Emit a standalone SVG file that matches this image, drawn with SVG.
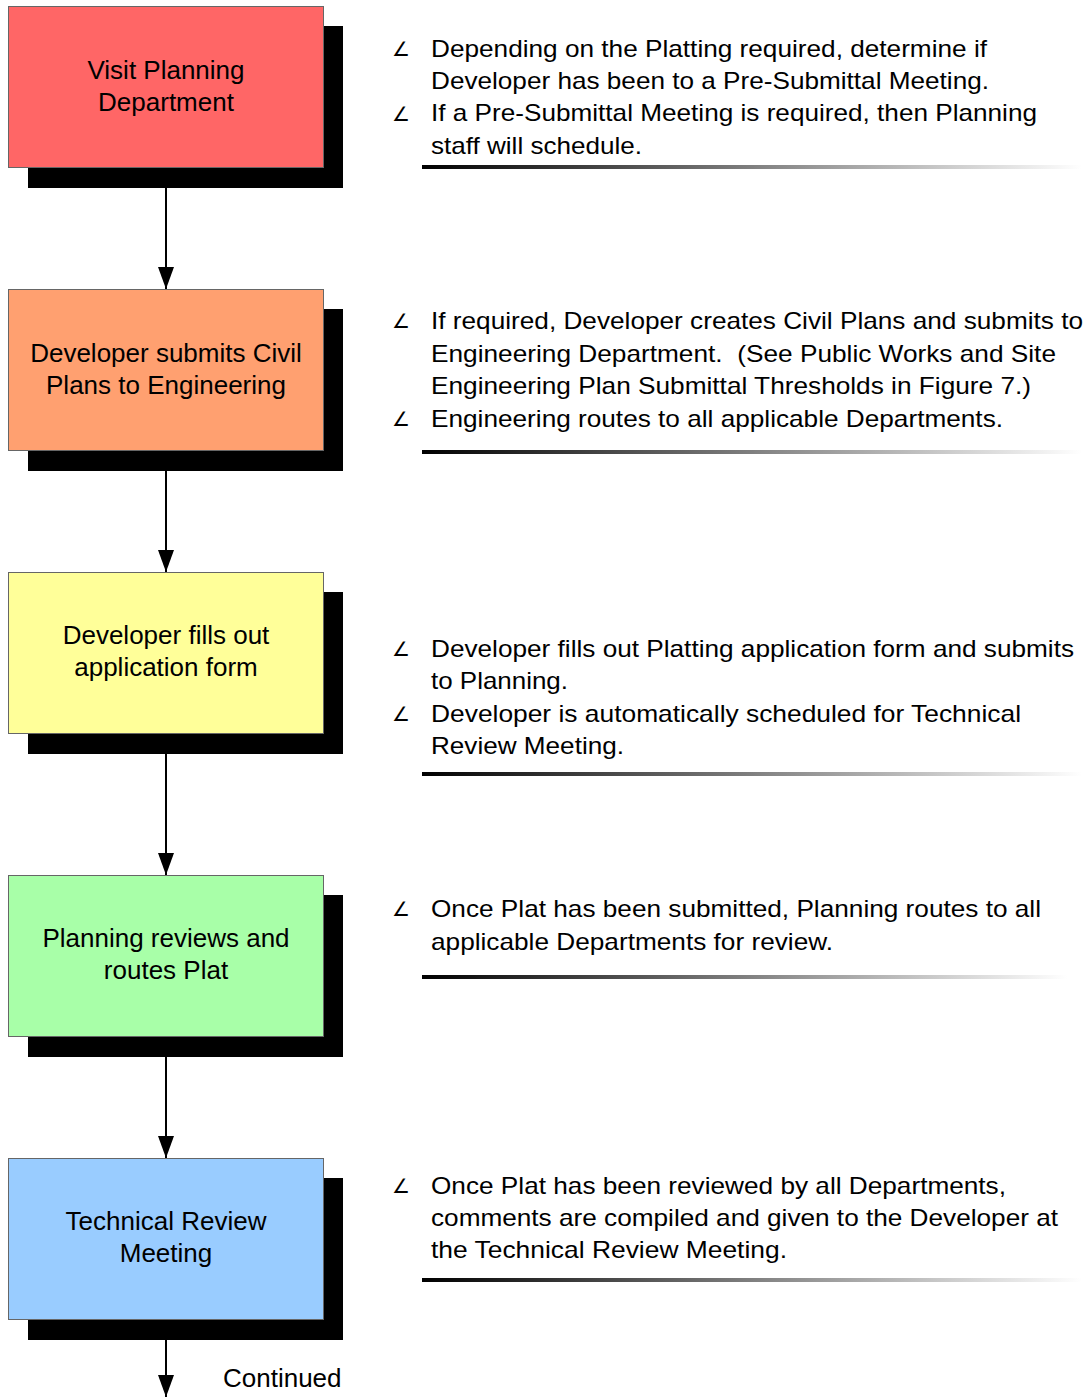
<svg xmlns="http://www.w3.org/2000/svg" width="1088" height="1397" viewBox="0 0 1088 1397">
  <defs>
    <linearGradient id="rule" x1="0" y1="0" x2="1" y2="0">
      <stop offset="0" stop-color="#000000"/>
      <stop offset="1" stop-color="#ffffff"/>
    </linearGradient>
    <marker id="arrow" markerWidth="22" markerHeight="16" refX="22" refY="8" orient="auto" markerUnits="userSpaceOnUse" viewBox="0 0 22 16">
      <path d="M0,0 L22,8 L0,16 Z" fill="#000"/>
    </marker>
  </defs>
  <style>
    .shadow { fill: #000; }
    .box { stroke: #666; stroke-width: 1; }
    .label { font-family: "Liberation Sans", Arial, sans-serif; font-size: 26px; fill: #000; text-anchor: middle; }
    .note { font-family: "Liberation Sans", Arial, sans-serif; font-size: 24px; fill: #000; }
    .bullet { font-family: "DejaVu Sans", sans-serif; font-size: 20px; fill: #000; }
    .conn { stroke: #000; stroke-width: 2; fill: none; }
    .rule { fill: url(#rule); }
  </style>
  <rect width="1088" height="1397" fill="#fff"/>

  <!-- connectors -->
  <g id="connectors">
    <line class="conn" x1="166" y1="167" x2="166" y2="289" marker-end="url(#arrow)"/>
    <line class="conn" x1="166" y1="450" x2="166" y2="572" marker-end="url(#arrow)"/>
    <line class="conn" x1="166" y1="733" x2="166" y2="875" marker-end="url(#arrow)"/>
    <line class="conn" x1="166" y1="1036" x2="166" y2="1158" marker-end="url(#arrow)"/>
    <line class="conn" x1="166" y1="1319" x2="166" y2="1397" marker-end="url(#arrow)"/>
  </g>

  <!-- process steps -->
  <g id="step-visit">
    <rect class="shadow" x="28" y="26" width="315" height="162"/>
    <rect class="box" x="8.5" y="6.5" width="315" height="161" fill="#FF6666"/>
    <text class="label" x="166" y="79">Visit Planning</text>
    <text class="label" x="166" y="111">Department</text>
  </g>
  <g id="step-civil">
    <rect class="shadow" x="28" y="309" width="315" height="162"/>
    <rect class="box" x="8.5" y="289.5" width="315" height="161" fill="#FFA070"/>
    <text class="label" x="166" y="362">Developer submits Civil</text>
    <text class="label" x="166" y="394">Plans to Engineering</text>
  </g>
  <g id="step-application">
    <rect class="shadow" x="28" y="592" width="315" height="162"/>
    <rect class="box" x="8.5" y="572.5" width="315" height="161" fill="#FFFF99"/>
    <text class="label" x="166" y="644">Developer fills out</text>
    <text class="label" x="166" y="676">application form</text>
  </g>
  <g id="step-review">
    <rect class="shadow" x="28" y="895" width="315" height="162"/>
    <rect class="box" x="8.5" y="875.5" width="315" height="161" fill="#A8FFA8"/>
    <text class="label" x="166" y="947">Planning reviews and</text>
    <text class="label" x="166" y="979">routes Plat</text>
  </g>
  <g id="step-meeting">
    <rect class="shadow" x="28" y="1178" width="315" height="162"/>
    <rect class="box" x="8.5" y="1158.5" width="315" height="161" fill="#99CCFF"/>
    <text class="label" x="166" y="1230">Technical Review</text>
    <text class="label" x="166" y="1262">Meeting</text>
  </g>
  <g id="continued">
    <text class="note" x="223" y="1387" style="font-size:26px">Continued</text>
  </g>

  <!-- notes -->
  <g id="note-visit">
    <text class="bullet" x="392" y="56">∠</text>
    <text class="note" x="431" y="57" textLength="556" lengthAdjust="spacingAndGlyphs">Depending on the Platting required, determine if</text>
    <text class="note" x="431" y="89" textLength="558" lengthAdjust="spacingAndGlyphs">Developer has been to a Pre-Submittal Meeting.</text>
    <text class="bullet" x="392" y="121">∠</text>
    <text class="note" x="431" y="121" textLength="606" lengthAdjust="spacingAndGlyphs">If a Pre-Submittal Meeting is required, then Planning</text>
    <text class="note" x="431" y="154" textLength="211" lengthAdjust="spacingAndGlyphs">staff will schedule.</text>
    <rect class="rule" x="422" y="165" width="660" height="4"/>
  </g>
  <g id="note-civil">
    <text class="bullet" x="392" y="328">∠</text>
    <text class="note" x="431" y="329" textLength="652" lengthAdjust="spacingAndGlyphs">If required, Developer creates Civil Plans and submits to</text>
    <text class="note" x="431" y="362" textLength="625" lengthAdjust="spacingAndGlyphs" xml:space="preserve">Engineering Department.  (See Public Works and Site</text>
    <text class="note" x="431" y="394" textLength="600" lengthAdjust="spacingAndGlyphs">Engineering Plan Submittal Thresholds in Figure 7.)</text>
    <text class="bullet" x="392" y="426">∠</text>
    <text class="note" x="431" y="427" textLength="572" lengthAdjust="spacingAndGlyphs">Engineering routes to all applicable Departments.</text>
    <rect class="rule" x="422" y="450" width="660" height="4"/>
  </g>
  <g id="note-application">
    <text class="bullet" x="392" y="656">∠</text>
    <text class="note" x="431" y="657" textLength="643" lengthAdjust="spacingAndGlyphs">Developer fills out Platting application form and submits</text>
    <text class="note" x="431" y="689" textLength="137" lengthAdjust="spacingAndGlyphs">to Planning.</text>
    <text class="bullet" x="392" y="721">∠</text>
    <text class="note" x="431" y="722" textLength="590" lengthAdjust="spacingAndGlyphs">Developer is automatically scheduled for Technical</text>
    <text class="note" x="431" y="754" textLength="193" lengthAdjust="spacingAndGlyphs">Review Meeting.</text>
    <rect class="rule" x="422" y="772" width="660" height="4"/>
  </g>
  <g id="note-review">
    <text class="bullet" x="392" y="916">∠</text>
    <text class="note" x="431" y="917" textLength="610" lengthAdjust="spacingAndGlyphs">Once Plat has been submitted, Planning routes to all</text>
    <text class="note" x="431" y="950" textLength="402" lengthAdjust="spacingAndGlyphs">applicable Departments for review.</text>
    <rect class="rule" x="422" y="975" width="645" height="4"/>
  </g>
  <g id="note-meeting">
    <text class="bullet" x="392" y="1193">∠</text>
    <text class="note" x="431" y="1194" textLength="575" lengthAdjust="spacingAndGlyphs">Once Plat has been reviewed by all Departments,</text>
    <text class="note" x="431" y="1226" textLength="627" lengthAdjust="spacingAndGlyphs">comments are compiled and given to the Developer at</text>
    <text class="note" x="431" y="1258" textLength="356" lengthAdjust="spacingAndGlyphs">the Technical Review Meeting.</text>
    <rect class="rule" x="422" y="1278" width="660" height="4"/>
  </g>
</svg>
